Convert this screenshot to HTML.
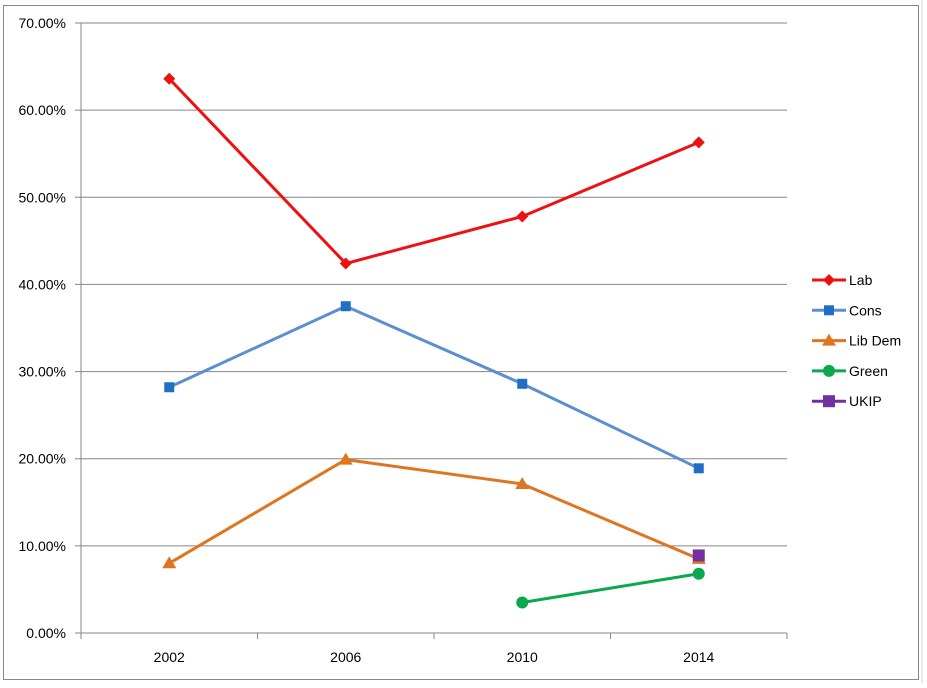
<!DOCTYPE html>
<html><head><meta charset="utf-8"><style>
body{margin:0;background:#fff;width:927px;height:683px;overflow:hidden;font-family:"Liberation Sans",Arial,sans-serif}
svg text{font-family:"Liberation Sans",Arial,sans-serif;font-size:14px;fill:#000}
</style></head><body>
<svg id="c" width="927" height="683">
<line x1="922" y1="0" x2="922" y2="683" stroke="#d4d4d4"/>
<rect x="3.5" y="5.5" width="915" height="674" fill="#fff" stroke="#888"/>
<g id="grid"></g><g id="series"></g><g id="legend"></g>
</svg>
<script>
const categories=["2002","2006","2010","2014"];
const lab=[63.6,42.4,47.8,56.3];
const cons=[28.2,37.5,28.6,18.9];
const libdem=[8.0,19.9,17.1,8.5];
const green=[null,null,3.5,6.8];
const ukip=[null,null,null,8.9];
const yTicks=[0,10,20,30,40,50,60,70];
const NS="http://www.w3.org/2000/svg";
const L=81,R=787,T=23,B=633;
const x=i=>L+(R-L)/categories.length*(i+0.5);
const y=v=>B-(B-T)*v/70;
function mk(t,a,p){const e=document.createElementNS(NS,t);for(const k in a)e.setAttribute(k,a[k]);p.appendChild(e);return e;}
const g=document.getElementById('grid');
yTicks.forEach(v=>{
 const l=mk('line',{x1:75,x2:R,y1:y(v),y2:y(v),stroke:'#868686'},g);
 
 
 const t=mk('text',{x:66,y:y(v)+5,'text-anchor':'end'},g);t.textContent=v.toFixed(2)+'%';
 
 
});
const ax=mk('line',{x1:L,x2:L,y1:T,y2:B,stroke:'#868686'},g);


for(let i=0;i<=categories.length;i++){const xx=L+(R-L)/categories.length*i;
 const tk=mk('line',{x1:xx,x2:xx,y1:B,y2:B+6,stroke:'#868686'},g);
 
 }
categories.forEach((c,i)=>{const t=mk('text',{x:x(i),y:662,'text-anchor':'middle'},g);t.textContent=c;
 
 });
function marker(p,shape,cx,cy,col,s){
 let e;
 if(shape==='diamond')e=mk('polygon',{points:`${cx},${cy-6} ${cx+6},${cy} ${cx},${cy+6} ${cx-6},${cy}`,fill:col},p);
 else if(shape==='square')e=mk('rect',{x:cx-s,y:cy-s,width:2*s,height:2*s,fill:col},p);
 else if(shape==='triangle')e=mk('polygon',{points:`${cx},${cy-7} ${cx+7},${cy+5} ${cx-7},${cy+5}`,fill:col},p);
 else e=mk('circle',{cx:cx,cy:cy,r:6,fill:col},p);
 return e;
}
const series=[["Lab",lab,"#ee1111","#ee1111","diamond",5],["Cons",cons,"#5b8fd0","#1f6fc5","square",5],["Lib Dem",libdem,"#e07520","#e07520","triangle",5],["Green",green,"#0aa84f","#0aa84f","circle",5],["UKIP",ukip,"#7030a0","#7030a0","square",6]];
const sg=document.getElementById('series'),lg=document.getElementById('legend');
series.forEach(([name,vals,lc,mc,sh,s],k)=>{
 const pts=vals.map((v,i)=>v==null?null:[x(i),y(v)]).filter(p=>p);
 if(pts.length>1){const pl=mk('polyline',{points:pts.map(p=>p.join(',')).join(' '),fill:'none',stroke:lc,'stroke-width':3},sg);
  
  }
 pts.forEach(p=>{const m=marker(sg,sh,p[0],p[1],mc,s);
  
  });
 const ly=280+k*30.3;
 const ll=mk('line',{x1:812,x2:846,y1:ly,y2:ly,stroke:lc,'stroke-width':3},lg);
 
 
 const lm=marker(lg,sh,829,ly,mc,s);
 
 
 const t=mk('text',{x:849,y:ly+5},lg);t.textContent=name;
 
 
});
</script>
</body></html>
